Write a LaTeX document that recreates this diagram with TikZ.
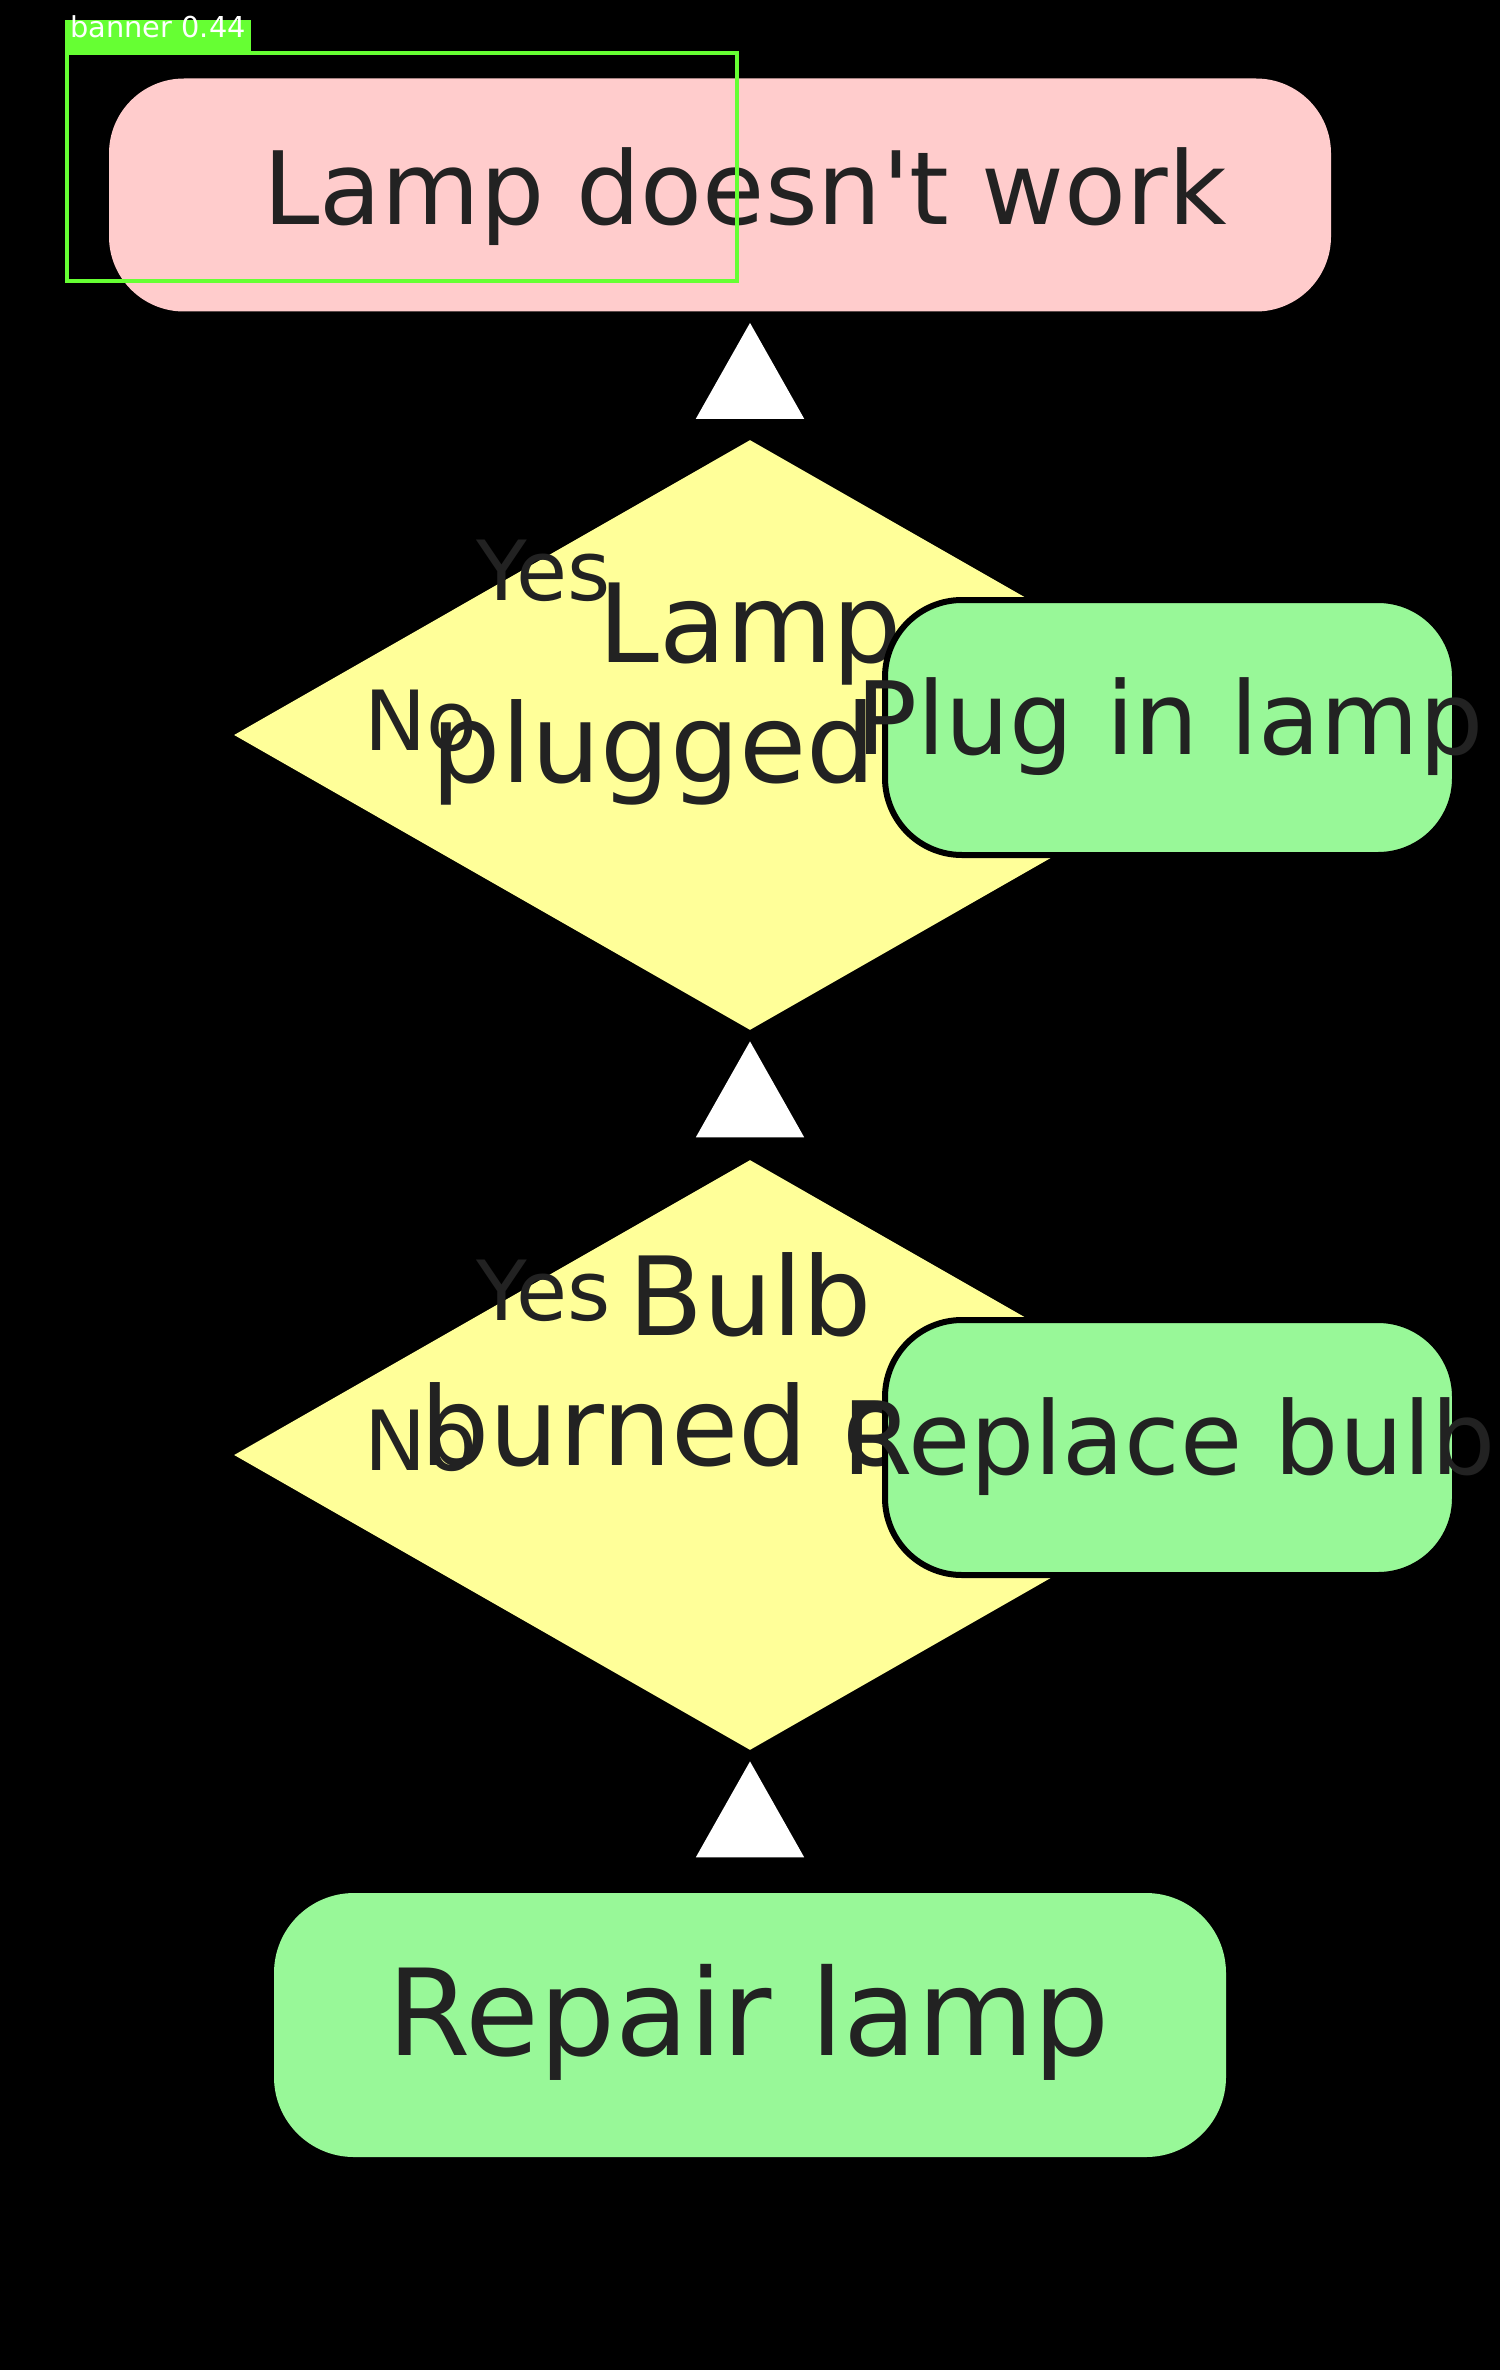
\documentclass[tikz,border=0pt]{standalone}
\usepackage{fontspec}
\setmainfont{DejaVu Sans}
\usetikzlibrary{shapes.geometric,arrows.meta}
\definecolor{pinkfill}{HTML}{FFCCCC}
\definecolor{yellowfill}{HTML}{FFFF99}
\definecolor{greenfill}{HTML}{98F898}
\definecolor{inkc}{HTML}{222222}
\definecolor{detgreen}{HTML}{66FF33}
\begin{document}
\begin{tikzpicture}[x=0.5pt,y=-0.5pt,
  startbox/.style={rectangle, rounded corners=37.5pt, fill=pinkfill, draw=none, inner sep=0pt,
    minimum width=611pt, minimum height=116.5pt},
  decision/.style={diamond, fill=yellowfill, draw=none, inner sep=0pt,
    minimum width=516pt, minimum height=295pt},
  actionbox/.style={rectangle, rounded corners=38.5pt, fill=greenfill, draw=black, line width=3pt,
    inner sep=0pt, minimum width=285pt, minimum height=127.5pt},
  endbox/.style={rectangle, rounded corners=40pt, fill=greenfill, draw=none, inner sep=0pt,
    minimum width=476pt, minimum height=132pt},
  txt/.style={inner sep=0pt, anchor=base, text=inkc, font=\fontsize{50.6pt}{60pt}\selectfont},
  dtxt/.style={inner sep=0pt, anchor=base, text=inkc, font=\fontsize{54.6pt}{64pt}\selectfont},
  yn/.style={inner sep=0pt, text=inkc, font=\fontsize{41.5pt}{48pt}\selectfont},
  flow/.style={draw=black, line width=1pt, shorten >=5.5pt,
    -{Triangle[width=54pt,length=48pt,color=white]}},
  det/.style={draw=detgreen, line width=2pt}
]
\fill[black] (0,0) rectangle (1500,2370);
\useasboundingbox (0,0) rectangle (1500,2370);

% start
\node[startbox] (top) at (720,195) {};
\node[txt] (toptxt) at (745,225) {Lamp doesn\textquotesingle t work};

% decision 1
\node[decision] (d1) at (750,735) {};
\node[dtxt] (d1a) at (750,662) {Lamp};
\node[dtxt] (d1b) at (750,782) {plugged in?};
\node[yn, anchor=base east] (y1) at (611,600) {Yes};
\node[yn, anchor=base west] (n1) at (364,750) {No};
\node[actionbox] (plug) at (1170,727.5) {};
\node[txt] (plugtxt) at (1170,754) {Plug in lamp};

% decision 2
\node[decision] (d2) at (750,1455) {};
\node[dtxt] (d2a) at (750,1335) {Bulb};
\node[dtxt] (d2b) at (750,1465) {burned out?};
\node[yn, anchor=base east] (y2) at (611,1320) {Yes};
\node[yn, anchor=base west] (n2) at (364,1470) {No};
\node[actionbox] (repl) at (1170,1447.5) {};
\node[txt] (repltxt) at (1169,1474) {Replace bulb};

% end
\node[endbox] (repair) at (750,2025) {};
\node[txt, font=\fontsize{60pt}{70pt}\selectfont] (repairtxt) at (749,2055) {Repair lamp};

% connectors
\draw[flow] (d1.north) -- (d1.north |- top.south);
\draw[flow] (d2.north) -- (d1.south);
\draw[flow] (repair.north) -- (d2.south);

% detection overlay
\node[det, rectangle, inner sep=0pt, minimum width=335pt, minimum height=114pt] (detbox) at (402,167) {};
\node[rectangle, fill=detgreen, inner sep=0pt, minimum width=93pt, minimum height=15.5pt] (detlab) at (158,35.5) {};
\node[inner sep=0pt, anchor=base west, text=white, font=\fontsize{14.4pt}{16pt}\selectfont] (dettxt) at (70,38) {banner 0.44};
\end{tikzpicture}
\end{document}
